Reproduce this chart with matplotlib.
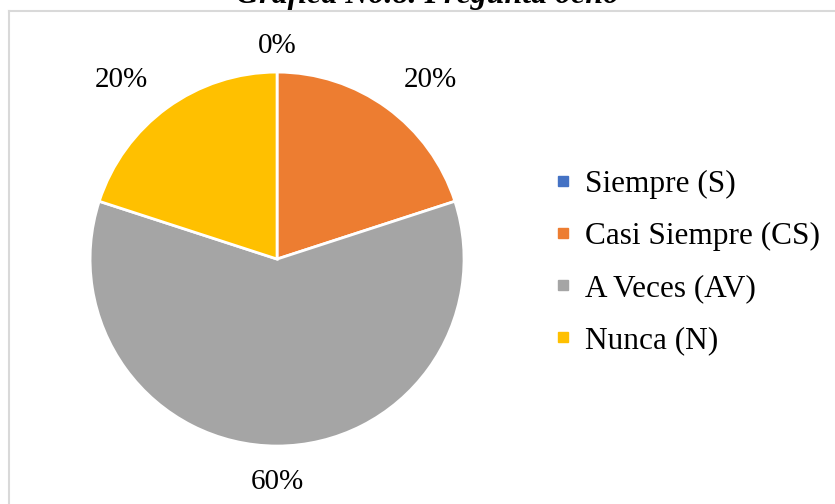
import matplotlib.pyplot as plt
from matplotlib.lines import Line2D
import numpy as np

categorias = ['Siempre (S)', 'Casi Siempre (CS)', 'A Veces (AV)', 'Nunca (N)']
valores = [0, 20, 60, 20]
colores = ['#4472C4', '#ED7D31', '#A5A5A5', '#FFC000']
titulo = 'Gráfica No.8. Pregunta ocho'

plt.rcParams['font.family'] = ['Liberation Serif', 'DejaVu Serif']
fs = 21

fig = plt.figure(figsize=(8.35, 5.04), dpi=100)
ax = fig.add_axes([0.1078, 0.115, 0.448, 0.742])

wedges, _, autotexts = ax.pie(valores, colors=colores, startangle=90, counterclock=False,
                              autopct='%1.0f%%', pctdistance=1.2,
                              wedgeprops=dict(edgecolor='white', linewidth=2),
                              textprops=dict(fontsize=fs, color='black'))
ax.set_xlim(-1, 1)
ax.set_ylim(-1, 1)

# ajustar distancias de las etiquetas (tipo "mejor ajuste" de Excel)
dist = [1.14, 1.26, 1.19, 1.27]
giro = [0, -4.5, 0, 5]
for t, d, g in zip(autotexts, dist, giro):
    x, y = t.get_position()
    a = np.arctan2(y, x) + np.radians(g)
    t.set_position((np.cos(a) * d, np.sin(a) * d))
    t.set_clip_on(False)

# leyenda
handles = [Line2D([0], [0], marker='s', color='w', markerfacecolor=c, markeredgecolor=c,
                  markersize=7) for c in colores]
fig.legend(handles, categorias, loc='center left', bbox_to_anchor=(0.629, 0.479),
           frameon=False, fontsize=22.5, handlelength=0.6, handletextpad=0.4,
           labelspacing=0.74)

# titulo cortado arriba
fig.text(0.512, 0.994, titulo, ha='center', va='baseline', fontsize=23,
         fontweight='bold', fontstyle='italic')

# borde del area del grafico
fig.add_artist(Line2D([8.5 / 835, 1], [1 - 10.5 / 504] * 2, color='#D9D9D9', lw=1.5,
                      transform=fig.transFigure))
fig.add_artist(Line2D([8.5 / 835] * 2, [0, 1 - 10.5 / 504], color='#D9D9D9', lw=1.5,
                      transform=fig.transFigure))

fig.savefig('out.png', dpi=100)
